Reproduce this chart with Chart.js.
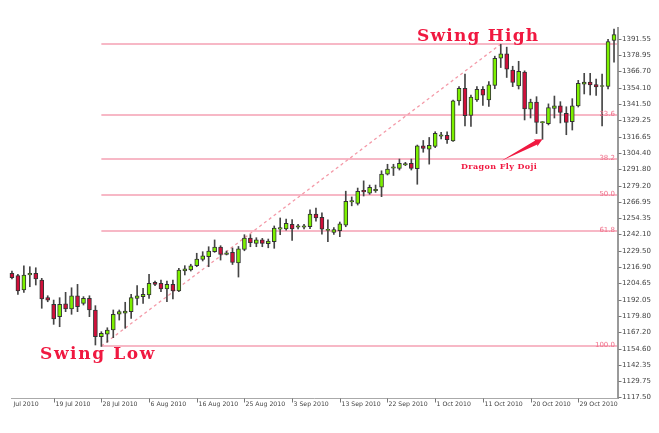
<!DOCTYPE html>
<html><head><meta charset="utf-8">
<script src="https://cdn.jsdelivr.net/npm/chart.js@4.4.0/dist/chart.umd.min.js"></script>
<style>html,body{margin:0;padding:0;background:#fff;overflow:hidden}</style>
</head><body>
<canvas id="c" width="659" height="433"></canvas>
<script>
const categories = ['2010-07-09',
'2010-07-11','2010-07-12','2010-07-13','2010-07-14','2010-07-15','2010-07-16','2010-07-18','2010-07-19','2010-07-20','2010-07-21','2010-07-22','2010-07-23','2010-07-25','2010-07-26','2010-07-27','2010-07-28','2010-07-29','2010-07-30',
'2010-08-01','2010-08-02','2010-08-03','2010-08-04','2010-08-05','2010-08-06','2010-08-08','2010-08-09','2010-08-10','2010-08-11','2010-08-12','2010-08-13','2010-08-15','2010-08-16','2010-08-17','2010-08-18','2010-08-19','2010-08-20','2010-08-22','2010-08-23','2010-08-24','2010-08-25','2010-08-26','2010-08-27','2010-08-29','2010-08-30','2010-08-31',
'2010-09-01','2010-09-02','2010-09-03','2010-09-05','2010-09-06','2010-09-07','2010-09-08','2010-09-09','2010-09-10','2010-09-12','2010-09-13','2010-09-14','2010-09-15','2010-09-16','2010-09-17','2010-09-19','2010-09-20','2010-09-21','2010-09-22','2010-09-23','2010-09-24','2010-09-26','2010-09-27','2010-09-28','2010-09-29','2010-09-30',
'2010-10-01','2010-10-03','2010-10-04','2010-10-05','2010-10-06','2010-10-07','2010-10-08','2010-10-10','2010-10-11','2010-10-12','2010-10-13','2010-10-14','2010-10-15','2010-10-17','2010-10-18','2010-10-19','2010-10-20','2010-10-21','2010-10-22','2010-10-24','2010-10-25','2010-10-26','2010-10-27','2010-10-28','2010-10-29','2010-10-31',
'2010-11-01','2010-11-02','2010-11-03','2010-11-04','2010-11-05'];

const opens = [null,
1212.3,1210.6,1199.5,1211.0,1212.3,1207.1,1193.6,1188.5,1179.1,1189.0,
1185.0,1195.1,1189.3,1193.1,1184.2,1163.8,1165.6,1168.9,1180.9,1181.7,
1182.9,1193.1,1194.4,1195.7,1205.4,1204.6,1200.3,1203.8,1198.7,1214.0,
1214.8,1218.1,1222.8,1225.0,1228.8,1232.4,1226.8,1228.3,1220.2,1230.5,
1239.3,1235.2,1237.8,1234.9,1236.4,1246.0,1246.3,1249.8,1247.6,1247.6,
1247.9,1257.5,1255.1,1245.0,1243.5,1244.8,1249.0,1266.9,1265.8,1275.8,
1273.5,1275.5,1278.2,1288.1,1292.7,1292.6,1295.2,1296.4,1292.3,1309.8,
1307.2,1309.4,1317.2,1317.9,1313.5,1344.1,1353.8,1333.0,1344.9,1353.1,
1344.9,1356.0,1376.8,1380.2,1367.8,1355.6,1366.3,1337.8,1343.3,1327.6,
1326.7,1338.5,1340.4,1334.7,1328.3,1340.4,1356.9,1358.6,1356.7,1355.2,
1355.2,1390.4];
const highs = [null,
1214.0,1211.4,1217.9,1217.3,1216.5,1208.4,1195.1,1191.8,1193.6,1197.7,
1201.2,1203.8,1194.4,1195.1,1187.5,1167.6,1170.6,1184.2,1184.2,1190.1,
1196.2,1202.8,1200.8,1211.4,1206.4,1207.1,1206.4,1207.1,1216.1,1218.1,
1219.2,1227.6,1228.8,1232.6,1237.8,1233.4,1229.3,1231.6,1232.8,1241.8,
1241.9,1239.5,1239.0,1238.5,1248.5,1254.6,1253.7,1253.3,1249.8,1249.8,
1260.9,1262.2,1258.6,1253.1,1247.2,1251.5,1275.1,1270.7,1277.5,1283.0,
1279.8,1279.8,1290.7,1295.7,1295.7,1299.7,1297.2,1299.7,1310.4,1313.9,
1316.2,1320.6,1320.2,1320.6,1344.9,1355.1,1364.8,1348.7,1355.1,1355.1,
1358.9,1378.4,1387.5,1385.3,1370.7,1374.5,1367.2,1345.5,1347.4,1328.4,
1341.9,1347.9,1343.6,1339.7,1345.9,1359.9,1365.3,1365.3,1360.9,1364.8,
1391.2,1399.2];
const lows = [null,
1207.9,1196.2,1197.7,1202.0,1203.3,1185.5,1190.5,1173.2,1171.4,1182.9,
1180.9,1182.9,1188.0,1179.1,1157.4,1156.3,1159.5,1163.0,1176.5,1170.2,
1177.8,1188.0,1189.3,1193.1,1202.8,1198.2,1190.5,1192.6,1198.2,1211.0,
1214.0,1217.3,1221.7,1217.3,1228.3,1222.4,1226.3,1219.0,1209.4,1229.5,
1232.6,1232.6,1232.6,1231.8,1231.4,1241.8,1245.2,1237.5,1246.2,1246.2,
1246.4,1252.1,1242.2,1236.5,1242.1,1240.3,1247.9,1263.9,1264.5,1271.4,
1272.7,1274.2,1270.9,1287.5,1287.1,1291.3,1294.6,1291.3,1280.4,1304.9,
1295.8,1308.4,1315.0,1311.7,1313.1,1341.0,1325.0,1324.6,1343.7,1340.7,
1339.9,1353.5,1369.7,1362.1,1355.1,1353.3,1329.6,1331.1,1319.2,1314.8,
1325.8,1331.1,1327.3,1318.3,1321.9,1339.5,1349.5,1348.7,1348.3,1325.0,
1353.3,1373.9];
const closes = [null,
1208.9,1198.7,1211.0,1212.3,1207.9,1192.6,1191.8,1177.3,1188.5,1185.0,
1195.1,1186.7,1193.1,1184.2,1163.8,1166.4,1168.9,1180.9,1182.9,1183.4,
1193.6,1195.1,1196.2,1204.6,1203.8,1200.3,1203.8,1198.7,1214.8,1215.6,
1217.9,1223.2,1225.7,1229.3,1232.4,1226.8,1228.0,1220.5,1230.9,1239.3,
1235.8,1237.8,1235.2,1237.0,1246.9,1247.3,1250.5,1246.3,1248.6,1248.6,
1257.5,1254.7,1246.0,1245.9,1245.8,1250.2,1267.4,1267.9,1275.0,1274.6,
1278.1,1276.5,1288.1,1292.1,1293.7,1296.4,1296.2,1292.6,1309.8,1307.9,
1310.2,1319.4,1318.2,1314.6,1344.3,1353.8,1332.8,1347.2,1353.1,1348.5,
1356.4,1376.8,1380.2,1368.4,1358.3,1366.9,1338.1,1343.3,1327.7,1328.4,
1339.1,1340.4,1335.3,1327.7,1340.4,1357.6,1358.6,1356.4,1354.8,1356.0,
1389.5,1395.0];

const yTickValues = [1391.55,1378.95,1366.70,1354.10,1341.50,1329.25,1316.65,1304.40,1291.80,1279.20,1266.95,1254.35,1242.10,1229.50,1216.90,1204.65,1192.05,1179.80,1167.20,1154.60,1142.35,1129.75,1117.50];
const xTickDates = ['2010-07-09','2010-07-19','2010-07-28','2010-08-06','2010-08-16','2010-08-25','2010-09-03','2010-09-13','2010-09-22','2010-10-01','2010-10-11','2010-10-20','2010-10-29'];
const xTickLabels = ['9 Jul 2010','19 Jul 2010','28 Jul 2010','6 Aug 2010','16 Aug 2010','25 Aug 2010','3 Sep 2010','13 Sep 2010','22 Sep 2010','1 Oct 2010','11 Oct 2010','20 Oct 2010','29 Oct 2010'];

const fibRatios = [0, 23.6, 38.2, 50.0, 61.8, 100.0];
const fibLabels = ['', '23.6', '38.2', '50.0', '61.8', '100.0'];
const swingHigh = 1387.6, swingLow = 1156.6;
const swingHighDate = '2010-10-14', swingLowDate = '2010-07-28';
const dojiDate = '2010-10-22';

const GREEN = '#7cf000', RED = '#d10f3a';
const bodyColors = opens.map((o, i) => o == null ? 'rgba(0,0,0,0)' : (closes[i] >= o ? GREEN : RED));

const overlay = {
  id: 'overlay',
  beforeDatasetsDraw(chart) {
    const {ctx, scales: {x, y}} = chart;
    const xL = x.getPixelForValue(categories.indexOf(swingLowDate));
    const xH = x.getPixelForValue(categories.indexOf(swingHighDate));
    const right = chart.chartArea.right;
    ctx.save();
    ctx.strokeStyle = '#f7b8c6';
    ctx.lineWidth = 2;
    fibRatios.forEach(r => {
      const py = Math.round(y.getPixelForValue(swingHigh - r / 100 * (swingHigh - swingLow)));
      ctx.beginPath(); ctx.moveTo(xL, py); ctx.lineTo(right, py); ctx.stroke();
    });
    ctx.strokeStyle = '#f49aa8';
    ctx.lineWidth = 1.3;
    ctx.setLineDash([3, 3]);
    ctx.beginPath();
    ctx.moveTo(xL, y.getPixelForValue(swingLow));
    ctx.lineTo(xH, y.getPixelForValue(swingHigh));
    ctx.stroke();
    ctx.restore();
  },
  afterDatasetsDraw(chart) {
    const {ctx, scales: {x, y}, chartArea} = chart;
    ctx.save();
    ctx.font = '7px "DejaVu Sans"';
    ctx.fillStyle = '#f0708a';
    ctx.textAlign = 'right';
    ctx.textBaseline = 'alphabetic';
    fibRatios.forEach((r, k) => {
      if (!fibLabels[k]) return;
      const py = Math.round(y.getPixelForValue(swingHigh - r / 100 * (swingHigh - swingLow)));
      ctx.fillText(fibLabels[k], 615, py + 0.5);
    });
    const ax = chartArea.right + 0.5;
    ctx.strokeStyle = '#9a9a9a';
    ctx.lineWidth = 2;
    ctx.beginPath(); ctx.moveTo(ax + 0.5, 27); ctx.lineTo(ax + 0.5, chartArea.bottom + 1); ctx.stroke();
    ctx.lineWidth = 1;
    ctx.strokeStyle = '#777';
    ctx.fillStyle = '#444';
    ctx.font = '7px "DejaVu Sans"';
    ctx.textAlign = 'left';
    ctx.textBaseline = 'middle';
    yTickValues.forEach(v => {
      const py = Math.round(y.getPixelForValue(v)) + 0.5;
      ctx.beginPath(); ctx.moveTo(ax + 1, py); ctx.lineTo(ax + 4, py); ctx.stroke();
      ctx.fillText(v.toFixed(2), 622, py);
    });
    const by = chartArea.bottom + 0.5;
    ctx.strokeStyle = '#aaa';
    ctx.beginPath(); ctx.moveTo(11, by); ctx.lineTo(ax, by); ctx.stroke();
    ctx.save();
    ctx.beginPath(); ctx.rect(11, by - 1, 660, 40); ctx.clip();
    ctx.strokeStyle = '#777';
    ctx.font = '6.2px "DejaVu Sans"';
    ctx.fillStyle = '#444';
    ctx.textBaseline = 'middle';
    xTickDates.forEach((d, k) => {
      const px = Math.round(x.getPixelForValue(categories.indexOf(d))) + 0.5;
      ctx.beginPath(); ctx.moveTo(px, by); ctx.lineTo(px, by + 4); ctx.stroke();
      ctx.fillText(xTickLabels[k], px + 1, by + 6);
    });
    ctx.restore();
    ctx.fillStyle = '#f01840';
    ctx.textBaseline = 'middle';
    ctx.textAlign = 'left';
    ctx.font = 'bold 17px "DejaVu Serif"';
    ctx.letterSpacing = '1.2px';
    ctx.fillText('Swing High', 417, 37);
    ctx.letterSpacing = '1.6px';
    ctx.fillText('Swing Low', 40, 355);
    ctx.font = 'bold 8px "DejaVu Serif"';
    ctx.letterSpacing = '0.4px';
    ctx.fillText('Dragon Fly Doji', 461, 167);
    ctx.letterSpacing = '0px';
    const tx = x.getPixelForValue(categories.indexOf(dojiDate));
    const ty = y.getPixelForValue(lows[categories.indexOf(dojiDate)]);
    const sx = 501, sy = 161;
    const ang = Math.atan2(ty - sy, tx - sx);
    const len = Math.hypot(tx - sx, ty - sy);
    ctx.translate(sx, sy);
    ctx.rotate(ang);
    ctx.beginPath();
    ctx.moveTo(0, 0);
    ctx.lineTo(len - 7, -2.2);
    ctx.lineTo(len - 8, -4);
    ctx.lineTo(len, 0);
    ctx.lineTo(len - 8, 4);
    ctx.lineTo(len - 7, 2.2);
    ctx.closePath();
    ctx.fill();
    ctx.restore();
  }
};

new Chart(document.getElementById('c'), {
  type: 'bar',
  data: {
    labels: categories,
    datasets: [
      {
        label: 'body',
        data: opens.map((o, i) => o == null ? null : [o, closes[i]]),
        backgroundColor: bodyColors,
        borderColor: '#333333',
        borderWidth: 1,
        borderSkipped: false,
        barThickness: 4,
        grouped: false
      },
      {
        label: 'wick',
        data: lows.map((l, i) => l == null ? null : [l, highs[i]]),
        backgroundColor: '#454545',
        borderWidth: 0,
        barThickness: 1,
        grouped: false
      }
    ]
  },
  options: {
    responsive: false,
    animation: false,
    devicePixelRatio: 1,
    layout: {padding: {left: 3, right: 42, top: 25, bottom: 35}},
    plugins: {legend: {display: false}, tooltip: {enabled: false}},
    scales: {
      x: {display: false, offset: true},
      y: {display: false, min: 1116.85, max: 1402.26}
    }
  },
  plugins: [overlay]
});
</script>
</body></html>
